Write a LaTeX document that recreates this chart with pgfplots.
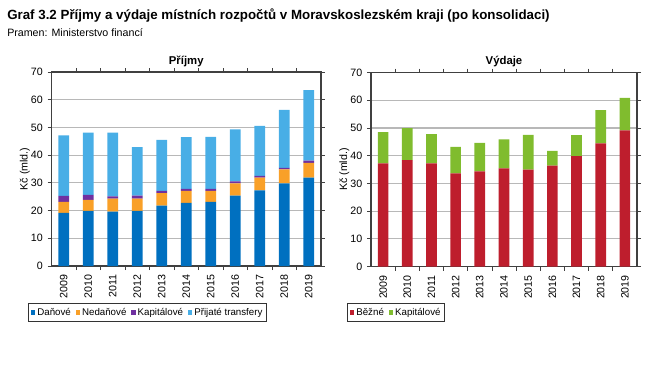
\documentclass[border=0pt]{standalone}
\usepackage{fontspec}
\setmainfont{Liberation Sans}
\usepackage{pgfplots}
\pgfplotsset{compat=1.18}
\definecolor{dan}{RGB}{0,112,192}
\definecolor{neda}{RGB}{249,160,40}
\definecolor{kap}{RGB}{112,48,160}
\definecolor{trans}{RGB}{72,174,230}
\definecolor{bez}{RGB}{190,30,45}
\definecolor{kapv}{RGB}{128,188,46}
\pgfplotsset{mystyle/.style={
  scale only axis, anchor=south west, ybar stacked, bar width=8pt,
  ymin=0, ymax=70, ytick={0,10,...,70}, xmin=-0.5, xmax=10.5,
  xtick={0,...,10}, xticklabels={2009,2010,2011,2012,2013,2014,2015,2016,2017,2018,2019},
  x tick label style={rotate=90, anchor=east},
  major x tick style={draw=none}, minor xtick={0.5,1.5,...,9.5},
  tick align=outside, major tick length=3pt, minor tick length=3pt,
  ymajorgrids, grid style={black!28, line width=0.8pt},
  axis line style={draw=black!75, line width=0.8pt},
  tick style={black!75, line width=0.6pt},
  ticklabel style={font=\fontsize{8}{10}\selectfont},
  /pgf/number format/assume math mode=true,
  ylabel={Kč (mld.)}, ylabel style={font=\fontsize{8}{10}\selectfont, yshift=-6pt},
  title style={font=\bfseries\fontsize{8.5}{10}\selectfont, yshift=-5.5pt},
  legend columns=-1,
  legend style={draw=black!80, line width=0.7pt, font=\fontsize{7.3}{8.5}\selectfont, inner xsep=1.8pt, inner ysep=2.9pt,
    nodes={inner xsep=1.4pt, inner ysep=0.5pt},
    /tikz/every even column/.append style={column sep=2.2pt}},
  legend image code/.code={\fill[##1] (0.4pt,-1.7pt) rectangle (3.8pt,1.7pt);},
}}
\begin{document}
\begin{tikzpicture}[x=0.75pt,y=-0.75pt]
\useasboundingbox (0,0) rectangle (650,365);
\node[anchor=base west, inner sep=0, font=\bfseries\fontsize{10}{12}\selectfont] at (7,19) {Graf 3.2 Příjmy a výdaje místních rozpočtů v Moravskoslezském kraji (po konsolidaci)};
\node[anchor=base west, inner sep=0, font=\fontsize{8}{10}\selectfont] at (7,36) {Pramen: Ministerstvo financí};
\begin{axis}[mystyle, at={(38.63pt,-199.5pt)}, width=202.1pt, height=145.5pt, title={Příjmy},
  legend style={at={(-0.087,-0.19)}, anchor=north west}]
\addplot[fill=dan, draw=none] coordinates {(0,19.2)(1,19.9)(2,19.6)(3,19.9)(4,21.8)(5,22.8)(6,23.1)(7,25.4)(8,27.3)(9,29.8)(10,31.9)};
\addplot[fill=neda, draw=none] coordinates {(0,3.9)(1,4.0)(2,4.7)(3,4.4)(4,4.5)(5,4.3)(6,4.0)(7,4.4)(8,4.6)(9,5.1)(10,5.3)};
\addplot[fill=kap, draw=none] coordinates {(0,2.2)(1,1.8)(2,0.8)(3,1.1)(4,0.8)(5,0.7)(6,0.7)(7,0.7)(8,0.6)(9,0.5)(10,0.8)};
\addplot[fill=trans, draw=none] coordinates {(0,21.8)(1,22.4)(2,23.0)(3,17.5)(4,18.4)(5,18.7)(6,18.8)(7,18.8)(8,18.1)(9,20.9)(10,25.5)};
\legend{Daňové, Nedaňové, Kapitálové, Přijaté transfery}
\end{axis}
\begin{axis}[mystyle, at={(278.25pt,-199.9pt)}, width=199.5pt, height=145.5pt, title={Výdaje},
  legend style={at={(-0.09,-0.188)}, anchor=north west}]
\addplot[fill=bez, draw=none] coordinates {(0,37.2)(1,38.4)(2,37.2)(3,33.6)(4,34.3)(5,35.4)(6,35.0)(7,36.4)(8,39.8)(9,44.4)(10,49.1)};
\addplot[fill=kapv, draw=none] coordinates {(0,11.3)(1,11.5)(2,10.6)(3,9.6)(4,10.3)(5,10.5)(6,12.5)(7,5.3)(8,7.6)(9,12.0)(10,11.8)};
\legend{Běžné, Kapitálové}
\end{axis}
\end{tikzpicture}
\end{document}
